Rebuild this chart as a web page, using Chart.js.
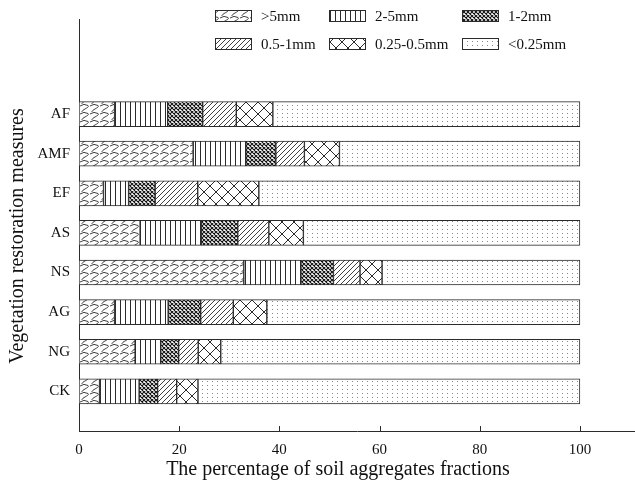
<!DOCTYPE html>
<html>
<head>
<meta charset="utf-8">
<script src="https://cdn.jsdelivr.net/npm/chart.js@4"></script>
<style>
  html, body { margin: 0; padding: 0; background: #fff; }
  #wrap { width: 635px; height: 481px; position: relative; }
</style>
</head>
<body>
<div id="wrap"><canvas id="chart"></canvas></div>
<script>
// Soil aggregate fractions per vegetation restoration measure (top to bottom).
const categories = ['AF', 'AMF', 'EF', 'AS', 'NS', 'AG', 'NG', 'CK'];
const rowPos = [8, 7, 6, 5, 4, 3, 2, 1];

const fractionNames = ['>5mm', '2-5mm', '1-2mm', '0.5-1mm', '0.25-0.5mm', '<0.25mm'];
const gt5 = [7.1, 22.8, 4.9, 12.2, 32.9, 7.1, 11.2, 4.1];
const f2to5 = [10.6, 10.5, 5.0, 12.2, 11.4, 10.7, 5.1, 7.9];
const f1to2 = [7.0, 6.0, 5.3, 7.3, 6.5, 6.5, 3.6, 3.7];
const f05to1 = [6.7, 5.7, 8.5, 6.2, 5.3, 6.5, 3.9, 3.8];
const f025to05 = [7.3, 7.0, 12.2, 6.9, 4.4, 6.7, 4.5, 4.25];
const lt025 = [61.3, 48.0, 64.1, 55.2, 39.5, 62.5, 71.7, 76.25];

const xTicks = [0, 20, 40, 60, 80, 100];

const SERIF = '"Liberation Serif", "DejaVu Serif", serif';
const INK = '#2b2b2b';

// ----- hatch patterns -----

function makePattern(w, h, draw) {
  const c = document.createElement('canvas');
  c.width = w;
  c.height = h;
  const g = c.getContext('2d');
  g.fillStyle = '#fff';
  g.fillRect(0, 0, w, h);
  g.strokeStyle = INK;
  g.fillStyle = INK;
  draw(g, w, h);
  return document.createElement('canvas').getContext('2d').createPattern(c, 'repeat');
}

// draw a path at the tile and its wrapped neighbours so it tiles cleanly
function wrapped(g, w, h, path) {
  for (const dx of [-w, 0, w]) {
    for (const dy of [-h, 0, h]) {
      g.save();
      g.translate(dx, dy);
      g.beginPath();
      path(g);
      g.stroke();
      g.restore();
    }
  }
}

const patterns = [
  // >5mm: shingle / wave scales
  makePattern(10, 8, (g, w, h) => {
    g.lineWidth = 0.9;
    wrapped(g, w, h, (p) => {
      p.moveTo(0, 2);
      p.quadraticCurveTo(4, -1, 8, 1.5);
      p.bezierCurveTo(10.5, 3.5, 1.5, 5.5, 2, 8);
    });
  }),
  // 2-5mm: vertical lines
  makePattern(5, 4, (g) => {
    g.lineWidth = 1;
    g.beginPath();
    g.moveTo(0.5, 0);
    g.lineTo(0.5, 4);
    g.stroke();
  }),
  // 1-2mm: dense cross hatch
  makePattern(4, 4, (g) => {
    g.lineWidth = 1.1;
    g.strokeStyle = '#111';
    g.beginPath();
    g.moveTo(0, 0); g.lineTo(4, 4);
    g.moveTo(0, 4); g.lineTo(4, 0);
    g.stroke();
  }),
  // 0.5-1mm: diagonal lines
  makePattern(5, 5, (g) => {
    g.lineWidth = 0.9;
    g.beginPath();
    g.moveTo(0, 5); g.lineTo(5, 0);
    g.moveTo(-1, 1); g.lineTo(1, -1);
    g.moveTo(4, 6); g.lineTo(6, 4);
    g.stroke();
  }),
  // 0.25-0.5mm: large diagonal cross
  makePattern(12, 12, (g) => {
    g.lineWidth = 1;
    g.beginPath();
    g.moveTo(0, 0); g.lineTo(12, 12);
    g.moveTo(0, 12); g.lineTo(12, 0);
    g.stroke();
  }),
  // <0.25mm: fine dots
  makePattern(5, 4, (g) => {
    g.fillStyle = '#8a8a8a';
    g.fillRect(2, 1, 1, 1);
  }),
];

const seriesValues = [gt5, f2to5, f1to2, f05to1, f025to05, lt025];

const datasets = fractionNames.map((name, i) => ({
  label: name,
  data: seriesValues[i].map((v, j) => ({ x: v, y: rowPos[j] })),
  backgroundColor: patterns[i],
  borderColor: INK,
  borderWidth: 1,
  borderSkipped: false,
  barThickness: 25,
}));

// ----- custom drawing: legend, inner x ticks, axis titles -----

const legendCols = [215, 329, 462];
const legendRows = [16, 44];

const extras = {
  id: 'extras',
  afterDraw(chart) {
    const ctx = chart.ctx;
    const x = chart.scales.x;
    const area = chart.chartArea;
    ctx.save();

    // inner tick marks on the x axis
    ctx.strokeStyle = INK;
    ctx.lineWidth = 1;
    ctx.beginPath();
    xTicks.slice(1).forEach((v) => {
      const px = Math.round(x.getPixelForValue(v)) + 0.5;
      ctx.moveTo(px, area.bottom);
      ctx.lineTo(px, area.bottom - 5);
    });
    ctx.stroke();

    // legend
    ctx.font = '15px ' + SERIF;
    ctx.textBaseline = 'middle';
    ctx.textAlign = 'left';
    fractionNames.forEach((name, i) => {
      const bx = legendCols[i % 3];
      const cy = legendRows[Math.floor(i / 3)];
      ctx.fillStyle = patterns[i];
      ctx.fillRect(bx, cy - 6, 37, 12);
      ctx.strokeStyle = INK;
      ctx.strokeRect(bx + 0.5, cy - 5.5, 36, 11);
      ctx.fillStyle = '#111';
      ctx.fillText(name, bx + 46, cy + 1);
    });

    // axis titles
    ctx.fillStyle = '#111';
    ctx.textAlign = 'center';
    ctx.font = '20px ' + SERIF;
    ctx.fillText('The percentage of soil aggregates fractions', 338, 470);
    ctx.translate(18, 236);
    ctx.rotate(-Math.PI / 2);
    ctx.font = '20px ' + SERIF;
    ctx.fillText('Vegetation restoration measures', 0, 0);
    ctx.restore();
  },
};

new Chart(document.getElementById('chart'), {
  type: 'bar',
  data: { datasets },
  plugins: [extras],
  options: {
    indexAxis: 'y',
    responsive: true,
    maintainAspectRatio: false,
    animation: false,
    layout: { padding: { top: 19, right: 0, left: 0, bottom: 0 } },
    plugins: {
      legend: { display: false },
      tooltip: { enabled: false },
    },
    scales: {
      x: {
        type: 'linear',
        stacked: true,
        min: 0,
        max: 111,
        afterBuildTicks: (s) => { s.ticks = xTicks.map((v) => ({ value: v })); },
        afterFit: (s) => { s.height = 50; },
        grid: { display: false, drawTicks: false },
        border: { color: INK, width: 1 },
        ticks: { color: '#111', padding: 10, font: { family: SERIF, size: 15 } },
      },
      y: {
        type: 'linear',
        stacked: true,
        offset: false,
        min: 0,
        max: 10.4,
        afterBuildTicks: (s) => { s.ticks = rowPos.map((v) => ({ value: v })); },
        afterFit: (s) => { s.width = 79; },
        grid: { display: false, drawTicks: false, offset: false },
        border: { color: INK, width: 1 },
        ticks: {
          color: '#111',
          padding: 9,
          font: { family: SERIF, size: 15 },
          callback: (v) => categories[rowPos.indexOf(v)],
        },
      },
    },
  },
});
</script>
</body>
</html>
